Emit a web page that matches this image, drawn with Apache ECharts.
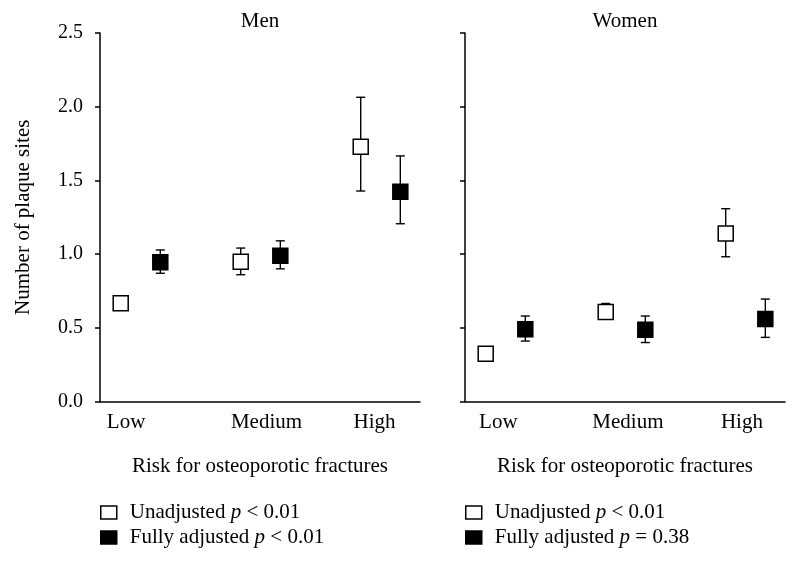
<!DOCTYPE html>
<html>
<head>
<meta charset="utf-8">
<script src="https://cdn.jsdelivr.net/npm/echarts@6/dist/echarts.min.js"></script>
<style>
  html, body { margin: 0; padding: 0; background: #fff; }
  #chart { width: 799px; height: 562px; }
</style>
</head>
<body>
<div id="chart"></div>
<script>
// categories and label positions (x units, categories at 1, 2, 3)
const categories = ['Low', 'Medium', 'High'];
const catPos = [1, 2, 3];
const labelPosMen = [0.88, 2.05, 2.95];
const labelPosWomen = [0.94, 2.02, 2.97];

// Men
const menUnadj = [0.666, 0.948, 1.728];
const menUnadjLo = [0.64, 0.86, 1.428];
const menUnadjHi = [0.69, 1.041, 2.064];
const menAdj = [0.944, 0.989, 1.423];
const menAdjLo = [0.87, 0.90, 1.206];
const menAdjHi = [1.028, 1.09, 1.666];

// Women
const womenUnadj = [0.324, 0.607, 1.14];
const womenUnadjLo = [0.30, 0.57, 0.982];
const womenUnadjHi = [0.35, 0.665, 1.308];
const womenAdj = [0.49, 0.487, 0.56];
const womenAdjLo = [0.41, 0.40, 0.435];
const womenAdjHi = [0.58, 0.58, 0.695];

const FONT = 'Liberation Serif';
const offset = 0.165;

function points(vals, shift) {
    return vals.map((v, i) => [catPos[i] + shift, v]);
}
function bars(lo, hi, shift) {
    return lo.map((l, i) => [catPos[i] + shift, l, hi[i]]);
}

function renderErr(params, api) {
    const x = api.value(0);
    const p1 = api.coord([x, api.value(1)]);
    const p2 = api.coord([x, api.value(2)]);
    const w = 4.5;
    const style = { stroke: '#000', lineWidth: 1.4 };
    return {
        type: 'group',
        children: [
            { type: 'line', shape: { x1: p1[0], y1: p1[1], x2: p2[0], y2: p2[1] }, style: style },
            { type: 'line', shape: { x1: p1[0] - w, y1: p1[1], x2: p1[0] + w, y2: p1[1] }, style: style },
            { type: 'line', shape: { x1: p2[0] - w, y1: p2[1], x2: p2[0] + w, y2: p2[1] }, style: style }
        ]
    };
}

const whiteStyle = { color: '#fff', borderColor: '#000', borderWidth: 1.5, opacity: 1 };
const blackStyle = { color: '#000', borderColor: '#000', borderWidth: 1.5, opacity: 1 };

const legendText = {
    'Unadjusted (Men)': ['Unadjusted ', ' < 0.01'],
    'Fully adjusted (Men)': ['Fully adjusted ', ' < 0.01'],
    'Unadjusted (Women)': ['Unadjusted ', ' < 0.01'],
    'Fully adjusted (Women)': ['Fully adjusted ', ' = 0.38']
};

function xAxisFor(gridIndex, labelPos) {
    return {
        type: 'value',
        gridIndex: gridIndex,
        min: 0.6625,
        max: 3.329,
        name: 'Risk for osteoporotic fractures',
        nameLocation: 'middle',
        nameGap: 54,
        nameTextStyle: { fontFamily: FONT, fontSize: 21, color: '#000' },
        axisLine: { show: true, lineStyle: { color: '#000', width: 1.5 } },
        axisTick: { show: false },
        splitLine: { show: false },
        axisLabel: {
            customValues: labelPos,
            margin: 10,
            fontFamily: FONT,
            fontSize: 21,
            color: '#000',
            formatter: function (v, i) {
                const k = labelPos.indexOf(v);
                return categories[k >= 0 ? k : i];
            }
        }
    };
}

function yAxisFor(gridIndex, showLabels) {
    return {
        type: 'value',
        gridIndex: gridIndex,
        min: 0,
        max: 2.5,
        interval: 0.5,
        name: showLabels ? 'Number of plaque sites' : '',
        nameLocation: 'middle',
        nameGap: 66,
        nameTextStyle: { fontFamily: FONT, fontSize: 21, color: '#000' },
        axisLine: { show: true, lineStyle: { color: '#000', width: 1.5 } },
        axisTick: { show: true, length: 5, lineStyle: { color: '#000', width: 1.5 } },
        splitLine: { show: false },
        axisLabel: {
            show: showLabels,
            margin: 17,
            fontFamily: FONT,
            fontSize: 20,
            color: '#000',
            formatter: v => v.toFixed(1)
        }
    };
}

function legendFor(left, names) {
    return {
        left: left,
        top: 502,
        orient: 'vertical',
        padding: 0,
        itemWidth: 16,
        itemHeight: 13,
        itemGap: 4,
        selectedMode: false,
        data: [
            { name: names[0], icon: 'rect', itemStyle: whiteStyle },
            { name: names[1], icon: 'rect', itemStyle: blackStyle }
        ],
        formatter: function (name) {
            const t = legendText[name];
            return '{n|' + t[0] + '}{i|p}{n|' + t[1] + '}';
        },
        textStyle: {
            padding: [0, 0, 0, 8],
            rich: {
                n: { fontFamily: FONT, fontSize: 21, color: '#000', lineHeight: 20 },
                i: { fontFamily: FONT, fontSize: 21, color: '#000', fontStyle: 'italic', lineHeight: 20 }
            }
        }
    };
}

const chart = echarts.init(document.getElementById('chart'));
chart.setOption({
    backgroundColor: '#fff',
    animation: false,
    title: [
        { text: 'Men', left: 260, textAlign: 'center', top: 11, padding: 0,
          textStyle: { fontFamily: FONT, fontSize: 21, fontWeight: 'normal', color: '#000' } },
        { text: 'Women', left: 625, textAlign: 'center', top: 11, padding: 0,
          textStyle: { fontFamily: FONT, fontSize: 21, fontWeight: 'normal', color: '#000' } }
    ],
    grid: [
        { left: 100, top: 33, width: 320, height: 368.5 },
        { left: 465, top: 33, width: 320, height: 368.5 }
    ],
    xAxis: [xAxisFor(0, labelPosMen), xAxisFor(1, labelPosWomen)],
    yAxis: [yAxisFor(0, true), yAxisFor(1, false)],
    legend: [
        legendFor(100, ['Unadjusted (Men)', 'Fully adjusted (Men)']),
        legendFor(465, ['Unadjusted (Women)', 'Fully adjusted (Women)'])
    ],
    series: [
        { type: 'custom', xAxisIndex: 0, yAxisIndex: 0, renderItem: renderErr, z: 1,
          encode: { x: 0, y: [1, 2] }, data: bars(menUnadjLo, menUnadjHi, -offset) },
        { type: 'custom', xAxisIndex: 0, yAxisIndex: 0, renderItem: renderErr, z: 1,
          encode: { x: 0, y: [1, 2] }, data: bars(menAdjLo, menAdjHi, offset) },
        { type: 'custom', xAxisIndex: 1, yAxisIndex: 1, renderItem: renderErr, z: 1,
          encode: { x: 0, y: [1, 2] }, data: bars(womenUnadjLo, womenUnadjHi, -offset) },
        { type: 'custom', xAxisIndex: 1, yAxisIndex: 1, renderItem: renderErr, z: 1,
          encode: { x: 0, y: [1, 2] }, data: bars(womenAdjLo, womenAdjHi, offset) },
        { name: 'Unadjusted (Men)', type: 'scatter', xAxisIndex: 0, yAxisIndex: 0, z: 3,
          symbol: 'rect', symbolSize: 15, itemStyle: whiteStyle, data: points(menUnadj, -offset) },
        { name: 'Fully adjusted (Men)', type: 'scatter', xAxisIndex: 0, yAxisIndex: 0, z: 3,
          symbol: 'rect', symbolSize: 15, itemStyle: blackStyle, data: points(menAdj, offset) },
        { name: 'Unadjusted (Women)', type: 'scatter', xAxisIndex: 1, yAxisIndex: 1, z: 3,
          symbol: 'rect', symbolSize: 15, itemStyle: whiteStyle, data: points(womenUnadj, -offset) },
        { name: 'Fully adjusted (Women)', type: 'scatter', xAxisIndex: 1, yAxisIndex: 1, z: 3,
          symbol: 'rect', symbolSize: 15, itemStyle: blackStyle, data: points(womenAdj, offset) }
    ]
});
</script>
</body>
</html>
